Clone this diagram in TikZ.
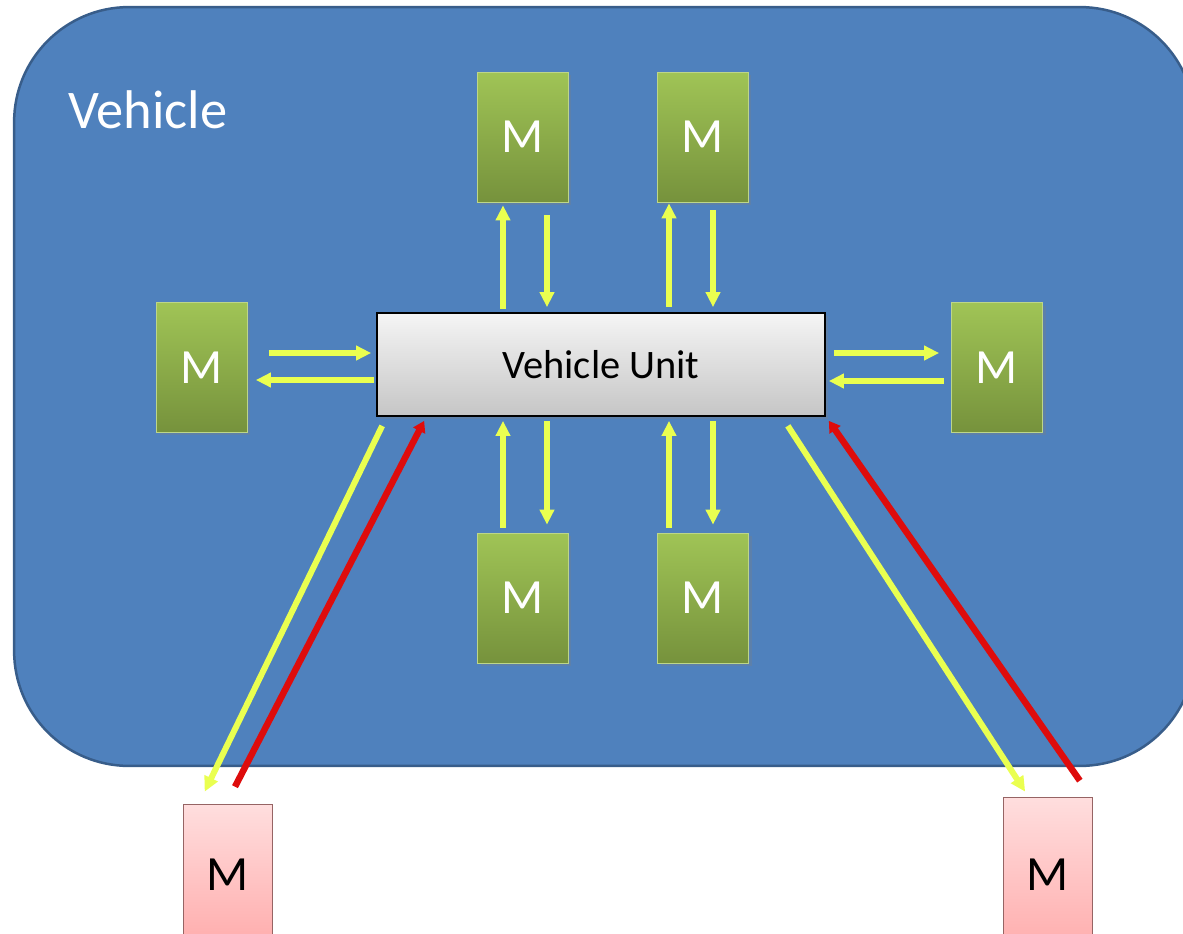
\documentclass[tikz,border=0pt]{standalone}
\usepackage{fontspec}
\setmainfont{Carlito}
\usetikzlibrary{arrows.meta,calc,shadows}
\definecolor{vehblue}{RGB}{79,129,189}
\definecolor{vehedge}{RGB}{56,93,138}
\definecolor{modtop}{RGB}{160,196,86}
\definecolor{modbot}{RGB}{118,146,60}
\definecolor{pinktop}{RGB}{255,222,222}
\definecolor{pinkbot}{RGB}{255,172,172}
\definecolor{pinkedge}{RGB}{150,100,100}
\definecolor{ylw}{RGB}{234,255,80}
\definecolor{rd}{RGB}{222,12,12}

\begin{document}
\begin{tikzpicture}[x=0.02cm,y=-0.02cm,>={Triangle[length=0.3cm,width=0.28cm]},
	vehbox/.style={draw=vehedge,line width=0.05cm,fill=vehblue,rounded corners=2.3cm,minimum width=23.62cm,minimum height=15.18cm},
	modbox/.style={draw=modtop!70!white,thin,top color=modtop,bottom color=modbot,minimum width=1.82cm,minimum height=2.6cm,text=white,font=\fontsize{28}{30}\selectfont,drop shadow={opacity=0.3,shadow xshift=0.06cm,shadow yshift=-0.06cm}},
	extbox/.style={draw=pinkedge,thin,top color=pinktop,bottom color=pinkbot,minimum width=1.78cm,font=\fontsize{28}{30}\selectfont},
	unitbox/.style={draw=black,line width=0.035cm,top color=gray!8,bottom color=gray!45,minimum width=8.96cm,minimum height=2.06cm,font=\fontsize{23}{26}\selectfont,drop shadow={opacity=0.3,shadow xshift=0.06cm,shadow yshift=-0.06cm}},
	yarrow/.style={->,draw=ylw,line width=0.12cm},
	rarrow/.style={-{Triangle[length=0.22cm,width=0.26cm]},draw=rd,line width=0.13cm}]
	\useasboundingbox (0,0) rectangle (1183,933);
	\node [vehbox] (vehicle) at (604.5,386.5) {};
	\node [text=white,font=\fontsize{31}{34}\selectfont] (vlabel) at (148,110) {Vehicle};
	\node [unitbox] (vu) at (601,364.5) {Vehicle Unit};
	% modules inside
	\node [modbox] (t1) at (522.5,137) {M};
	\node [modbox] (t2) at (702.5,137) {M};
	\node [modbox] (b1) at (523,598) {M};
	\node [modbox] (b2) at (703,598) {M};
	\node [modbox] (l) at (202,367.5) {M};
	\node [modbox] (r) at (997,367.5) {M};
	% modules outside
	\node [extbox, minimum height=2.84cm] (pl) at (227.5,875) {M};
	\node [extbox, minimum height=3.12cm] (pr) at (1048,875) {M};
	% top
	\draw [yarrow, shorten <=0.06cm, shorten >=0.06cm] ([xshift=-0.39cm]t1.south |- vu.north) -- ([xshift=-0.39cm]t1.south);
	\draw [yarrow, shorten <=0.26cm, shorten >=0.1cm] ([xshift=0.49cm]t1.south) -- ([xshift=0.49cm]t1.south |- vu.north);
	\draw [yarrow, shorten <=0.1cm, shorten >=0.02cm] ([xshift=-0.67cm]t2.south |- vu.north) -- ([xshift=-0.67cm]t2.south);
	\draw [yarrow, shorten <=0.16cm, shorten >=0.1cm] ([xshift=0.21cm]t2.south) -- ([xshift=0.21cm]t2.south |- vu.north);
	% bottom
	\draw [yarrow, shorten <=0.1cm, shorten >=0.08cm] ([xshift=-0.4cm]b1.north) -- ([xshift=-0.4cm]b1.north |- vu.south);
	\draw [yarrow, shorten <=0.08cm, shorten >=0.16cm] ([xshift=0.48cm]b1.north |- vu.south) -- ([xshift=0.48cm]b1.north);
	\draw [yarrow, shorten <=0.1cm, shorten >=0.08cm] ([xshift=-0.68cm]b2.north) -- ([xshift=-0.68cm]b2.north |- vu.south);
	\draw [yarrow, shorten <=0.08cm, shorten >=0.16cm] ([xshift=0.2cm]b2.north |- vu.south) -- ([xshift=0.2cm]b2.north);
	% left and right
	\draw [yarrow, shorten <=0.42cm, shorten >=0.1cm] ([yshift=0.29cm]l.east) -- ([yshift=0.29cm]l.east -| vu.west);
	\draw [yarrow, shorten <=0.04cm, shorten >=0.16cm] ([yshift=-0.25cm]l.east -| vu.west) -- ([yshift=-0.25cm]l.east);
	\draw [yarrow, shorten <=0.16cm, shorten >=0.24cm] ([yshift=0.29cm]r.west -| vu.east) -- ([yshift=0.29cm]r.west);
	\draw [yarrow, shorten <=0.14cm, shorten >=0.06cm] ([yshift=-0.27cm]r.west) -- ([yshift=-0.27cm]r.west -| vu.east);
	% diagonals
	\draw [yarrow] ($(vu.south west)+(6,9)$) -- ($(pl.north west)+(22,-12)$);
	\draw [rarrow] ($(pl.north)+(7.5,-17)$) -- ($(vu.south west)+(48,4)$);
	\draw [yarrow] ($(vu.south east)+(-38,9)$) -- ($(pr.north west)+(22,-5)$);
	\draw [rarrow] ($(pr.north east)+(-13,-16)$) -- ($(vu.south east)+(3,4)$);
\end{tikzpicture}
\end{document}
